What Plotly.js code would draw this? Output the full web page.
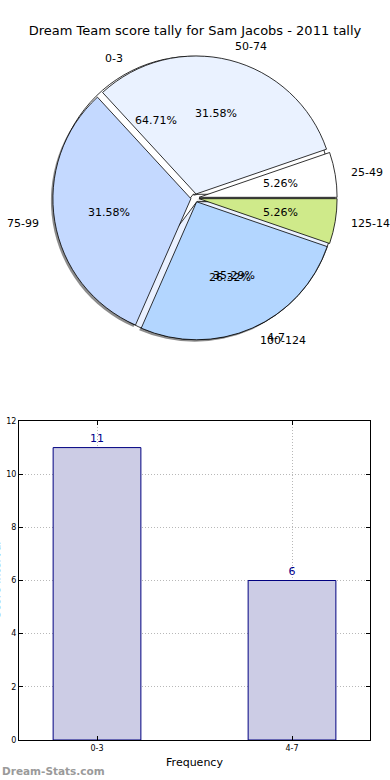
<!DOCTYPE html>
<html><head><meta charset="utf-8">
<script src="https://cdn.plot.ly/plotly-3.0.1.min.js"></script>
<style>html,body{margin:0;padding:0;background:#fff}</style>
</head><body><div id="chart" style="width:390px;height:780px"></div>
<script>
// Pie 1: frequency buckets
var freqLabels = ['0-3', '4-7'];
var freqValues = [11, 6];
var freqColors = ['#ffffff', '#eaf1ff'];
// Pie 2: score intervals
var scoreLabels = ['25-49', '50-74', '75-99', '100-124', '125-149'];
var scoreValues = [1, 6, 6, 5, 1];
var scoreColors = ['#ffffff', '#eaf2ff', '#c4d9ff', '#b3d6ff', '#cfea8a'];
// Bar chart
var barCats = ['0-3', '4-7'];
var barValues = [11, 6];

var W = 390, H = 780;
var cx = 195, cy = 198, R = 138, PULL = 0.03;
function px2x(p){ return p / W; }
function py2y(p){ return 1 - p / H; }
var half = R * (1 + PULL);
function dom(dx, dy){
  return {x:[px2x(cx - half + dx), px2x(cx + half + dx)], y:[py2y(cy + half + dy), py2y(cy - half + dy)]};
}
function pulls(n){ var a=[]; for(var i=0;i<n;i++) a.push(PULL); return a; }
function sum(v){ return v.reduce(function(a,b){return a+b;},0); }
// start first slice at 3 o'clock, going counterclockwise (Plotly ends the first ccw slice at 'rotation')
function rot(v){ return 90 - 360 * v[0] / sum(v); }

var font = 'DejaVu Sans, sans-serif';
var traces = [];
// shadow
traces.push({type:'pie', values:scoreValues, labels:scoreLabels, sort:false, direction:'counterclockwise', rotation:rot(scoreValues),
  pull:pulls(scoreValues.length), domain:dom(-2, 2), textinfo:'none', hoverinfo:'skip',
  marker:{colors:scoreValues.map(function(){return 'rgba(0,0,0,0.45)';}), line:{width:0}}, showlegend:false});
traces.push({type:'pie', values:freqValues, labels:freqLabels, sort:false, direction:'counterclockwise', rotation:rot(freqValues),
  pull:pulls(freqValues.length), domain:dom(0,0), textinfo:'none',
  marker:{colors:freqColors, line:{color:'#000', width:0.8}}, showlegend:false});
traces.push({type:'pie', values:scoreValues, labels:scoreLabels, sort:false, direction:'counterclockwise', rotation:rot(scoreValues),
  pull:pulls(scoreValues.length), domain:dom(0,0), textinfo:'none',
  marker:{colors:scoreColors, line:{color:'#000', width:0.8}}, showlegend:false});

var annotations = [];
function pieAnnots(labels, values){
  var tot = sum(values);
  var start = 0;
  for (var i=0;i<values.length;i++){
    var frac = values[i]/tot;
    var mid = (start + frac/2) * 2 * Math.PI;
    start += frac;
    var c = Math.cos(mid), s = Math.sin(mid);
    var ox = cx + PULL*R*c, oy = cy - PULL*R*s;
    annotations.push({xref:'paper', yref:'paper', x:px2x(ox + 0.6*R*c), y:py2y(oy - 0.6*R*s),
      text:(frac*100).toFixed(2)+'%', showarrow:false, xanchor:'center', yanchor:'middle',
      font:{family:font, size:11, color:'#000'}});
    annotations.push({xref:'paper', yref:'paper', x:px2x(ox + 1.1*R*c), y:py2y(oy - 1.1*R*s),
      text:labels[i], showarrow:false, xanchor: c > 0 ? 'left' : 'right', yanchor:'middle',
      font:{family:font, size:11, color:'#000'}});
  }
}
pieAnnots(freqLabels, freqValues);
pieAnnots(scoreLabels, scoreValues);

traces.push({type:'bar', x:barCats, y:barValues, width:0.45, xaxis:'x', yaxis:'y',
  marker:{color:'rgb(204,204,229)', line:{color:'#000080', width:1}},
  text:barValues.map(String), textposition:'outside', cliponaxis:false,
  textfont:{family:font, size:11, color:'#00008b'}, showlegend:false, hoverinfo:'x+y'});

annotations.push({xref:'paper', yref:'paper', x:px2x(-4), y:py2y(580), text:'Score Interval', textangle:-90,
  showarrow:false, xanchor:'center', yanchor:'middle', font:{family:font, size:11, color:'#000'}});
annotations.push({xref:'paper', yref:'paper', x:0, y:py2y(771), text:'<b>Dream-Stats.com</b>',
  showarrow:false, xanchor:'left', yanchor:'middle', font:{family:font, size:10.5, color:'#9a9a9a'}});

var gridStyle = {showgrid:true, gridcolor:'#b8b8b8', griddash:'1px,2px', gridwidth:1, zeroline:false};
var layout = {
  width:W, height:H, margin:{l:0,r:0,t:0,b:0}, paper_bgcolor:'#fff', plot_bgcolor:'#fff',
  font:{family:font, color:'#000'},
  title:{text:'Dream Team score tally for Sam Jacobs - 2011 tally', x:0.5, xanchor:'center', y:py2y(30), yanchor:'middle',
    font:{family:font, size:13, color:'#000'}},
  xaxis:Object.assign({domain:[px2x(19), px2x(370)], anchor:'y', type:'category', range:[-0.4, 1.4],
    showline:true, linecolor:'#000', linewidth:1, mirror:'allticks', ticks:'inside', ticklen:4, tickcolor:'#000',
    tickfont:{family:font, size:8, color:'#000'},
    title:{text:'Frequency', font:{family:font, size:11, color:'#000'}, standoff:6}}, gridStyle),
  yaxis:Object.assign({domain:[py2y(740), py2y(421)], anchor:'x', range:[0,12], dtick:2,
    showline:true, linecolor:'#000', linewidth:1, mirror:'allticks', ticks:'inside', ticklen:4, tickcolor:'#000',
    tickfont:{family:font, size:8, color:'#000'}}, gridStyle),
  annotations:annotations
};
Plotly.newPlot('chart', traces, layout, {displayModeBar:false, staticPlot:true});
</script></body></html>
